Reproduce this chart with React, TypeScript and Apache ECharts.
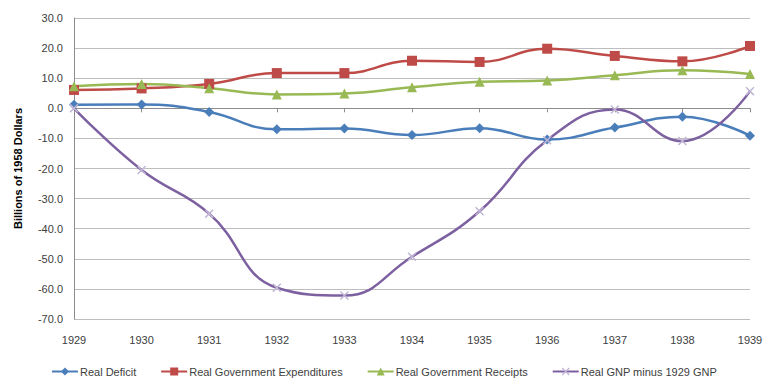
import React, { useEffect, useRef } from "react";
import * as echarts from "echarts";

const years = ["1929", "1930", "1931", "1932", "1933", "1934", "1935", "1936", "1937", "1938", "1939"];
const realDeficit = [1.2, 1.3, -1.2, -7.0, -6.7, -8.9, -6.6, -10.4, -6.4, -2.8, -9.1];
const realExpenditures = [6.1, 6.6, 8.1, 11.7, 11.7, 15.8, 15.4, 19.8, 17.4, 15.6, 20.7];
const realReceipts = [7.3, 8.1, 6.7, 4.6, 4.9, 7.0, 8.8, 9.2, 11.0, 12.6, 11.4];
const realGnpMinus1929 = [0, -20.5, -35.0, -59.6, -62.2, -49.3, -34.2, -10.6, -0.4, -10.9, 5.7];

const FONT = "Liberation Sans";
const X_PATH = "path://M0,1.2L1.2,0L10,8.8L8.8,10ZM8.8,0L10,1.2L1.2,10L0,8.8Z";

export default function App() {
  const ref = useRef<HTMLDivElement>(null);
  useEffect(() => {
    if (!ref.current) return;
    const chart = echarts.init(ref.current, undefined, { renderer: "svg" });
    const mk = (name: string, data: number[], color: string, symbol: string, size: number, symColor?: string) => ({
      name,
      type: "line",
      data,
      smooth: 0.45,
      symbol,
      symbolSize: size,
      showSymbol: true,
      lineStyle: { color, width: 2.5 },
      itemStyle: { color: symColor || color },
      xAxisIndex: 0,
      yAxisIndex: 0,
      z: 3,
    });
    chart.setOption({
      animation: false,
      textStyle: { fontFamily: FONT },
      grid: { left: 74, right: 18, top: 18, bottom: 71, containLabel: false },
      legend: {
        bottom: 8,
        left: "center",
        itemWidth: 26,
        itemHeight: 10,
        itemGap: 24,
        textStyle: { fontFamily: FONT, fontSize: 11, color: "#404040", padding: [0, 0, 0, -3] },
        data: ["Real Deficit", "Real Government Expenditures", "Real Government Receipts", "Real GNP minus 1929 GNP"],
      },
      xAxis: [
        {
          type: "category",
          data: years,
          boundaryGap: false,
          axisLine: { show: false, onZero: false },
          axisTick: { show: false },
          axisLabel: { color: "#404040", fontSize: 11, fontFamily: FONT, margin: 15 },
          splitLine: { show: false },
        },
        {
          type: "category",
          data: years,
          boundaryGap: false,
          position: "bottom",
          axisLine: { show: true, onZero: true, lineStyle: { color: "#8c8c8c", width: 1 } },
          axisTick: { show: true, length: 4, alignWithLabel: true, lineStyle: { color: "#8c8c8c" } },
          axisLabel: { show: false },
          splitLine: { show: false },
        },
      ],
      yAxis: {
        type: "value",
        min: -70,
        max: 30,
        interval: 10,
        name: "Billions of 1958 Dollars",
        nameLocation: "middle",
        nameGap: 51,
        nameRotate: 90,
        nameTextStyle: { fontWeight: "bold", fontSize: 11, color: "#000", fontFamily: FONT },
        axisLine: { show: true, lineStyle: { color: "#8c8c8c" } },
        axisTick: { show: false },
        axisLabel: { color: "#404040", fontSize: 11, fontFamily: FONT, margin: 11, formatter: (v: number) => v.toFixed(1) },
        splitLine: { lineStyle: { color: "#bdbdbd", width: 1 } },
      },
      series: [
        mk("Real Deficit", realDeficit, "#4a7ebb", "diamond", 10),
        mk("Real Government Expenditures", realExpenditures, "#be4b48", "rect", 10),
        mk("Real Government Receipts", realReceipts, "#98b954", "triangle", 10),
        mk("Real GNP minus 1929 GNP", realGnpMinus1929, "#7d60a0", X_PATH, 9, "#c2b6d6"),
      ],
    });
    return () => chart.dispose();
  }, []);
  return <div ref={ref} style={{ width: 768, height: 390, position: "absolute", left: 0, top: 0 }} />;
}
